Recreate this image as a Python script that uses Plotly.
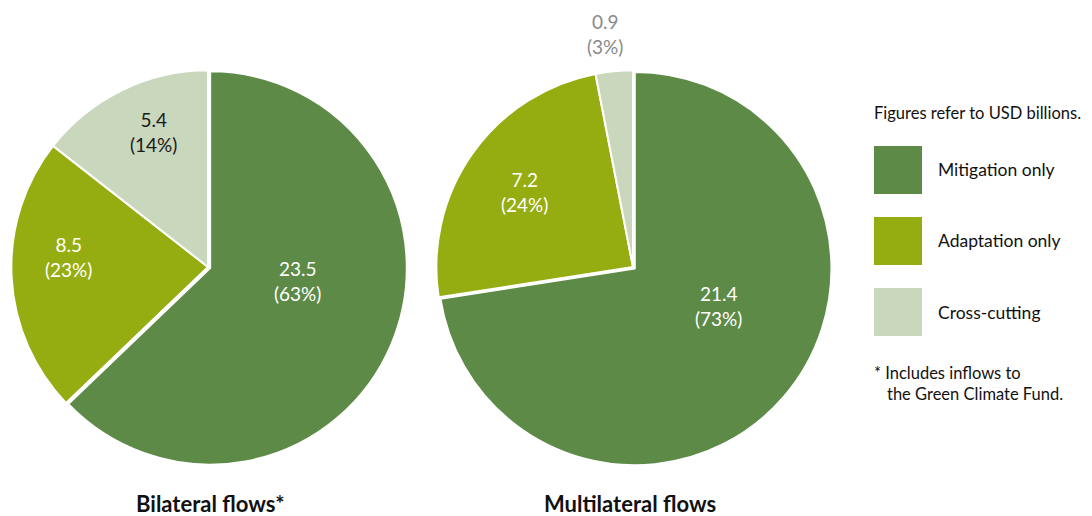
import plotly.graph_objects as go

W, H = 1092, 516

categories = ["Mitigation only", "Adaptation only", "Cross-cutting"]
bilateral_values = [23.5, 8.5, 5.4]
bilateral_pct = [63, 23, 14]
multilateral_values = [21.4, 7.2, 0.9]
multilateral_pct = [73, 24, 3]
pie_titles = ["Bilateral flows*", "Multilateral flows"]
colors = ["#5d8a46", "#96ad11", "#c9d8bc"]
legend_note = "Figures refer to USD billions."
footnote = ["* Includes inflows to", "the Green Climate Fund."]

FONT = "Lato, 'Open Sans', sans-serif"


def px(x):
    return x / W


def py(y):
    return 1 - y / H


def dom(cx, cy, r):
    return dict(x=[px(cx - r), px(cx + r)], y=[py(cy + r), py(cy - r)])


R = 199
fig = go.Figure()
for vals, (cx, cy) in [(bilateral_values, (208, 267)), (multilateral_values, (633, 267))]:
    fig.add_trace(go.Pie(
        labels=categories, values=vals, sort=False, direction="clockwise", rotation=0,
        marker=dict(colors=colors, line=dict(color="white", width=2)),
        textinfo="none", hoverinfo="label+value+percent", showlegend=False,
        pull=[0.012, 0, 0], domain=dom(cx, cy, R),
    ))

annotations = []
# slice labels
label_pos = [
    [(297, 281, "white"), (68, 257, "white"), (153, 132, "#1a1a1a")],
    [(718, 306, "white"), (524, 192, "white"), (605, 34, "#8a8a8a")],
]
for vals, pcts, pos in [(bilateral_values, bilateral_pct, label_pos[0]),
                        (multilateral_values, multilateral_pct, label_pos[1])]:
    for v, p, (x, y, c) in zip(vals, pcts, pos):
        annotations.append(dict(x=px(x), y=py(y), xref="paper", yref="paper", showarrow=False,
                                text=f"{v}<br>({p}%)", font=dict(family=FONT, size=19, color=c),
                                align="center", xanchor="center", yanchor="middle"))
# pie titles
for t, x in zip(pie_titles, [210, 630]):
    annotations.append(dict(x=px(x), y=py(503), xref="paper", yref="paper", showarrow=False,
                            text=f"<b>{t}</b>", font=dict(family=FONT, size=22, color="#111"),
                            xanchor="center", yanchor="middle"))
# legend
annotations.append(dict(x=px(872), y=py(113), xref="paper", yref="paper", showarrow=False,
                        text=legend_note, font=dict(family=FONT, size=16.5, color="#111"),
                        xanchor="left", yanchor="middle"))
shapes = []
sq_tops = [146, 217, 288]
for cat, col, top in zip(categories, colors, sq_tops):
    shapes.append(dict(type="rect", xref="paper", yref="paper", x0=px(874), x1=px(922),
                       y0=py(top + 48), y1=py(top), fillcolor=col, line=dict(width=0)))
    annotations.append(dict(x=px(936), y=py(top + 24), xref="paper", yref="paper", showarrow=False,
                            text=cat, font=dict(family=FONT, size=17.5, color="#111"),
                            xanchor="left", yanchor="middle"))
annotations.append(dict(x=px(872), y=py(373), xref="paper", yref="paper", showarrow=False,
                        text=footnote[0], font=dict(family=FONT, size=16.5, color="#111"),
                        xanchor="left", yanchor="middle"))
annotations.append(dict(x=px(885), y=py(394), xref="paper", yref="paper", showarrow=False,
                        text=footnote[1], font=dict(family=FONT, size=16.5, color="#111"),
                        xanchor="left", yanchor="middle"))

fig.update_layout(width=W, height=H, margin=dict(l=0, r=0, t=0, b=0),
                  paper_bgcolor="white", plot_bgcolor="white",
                  annotations=annotations, shapes=shapes, font=dict(family=FONT))
fig.write_html("out.html", config={"displayModeBar": False},
               post_script="document.body.style.margin='0';document.body.style.padding='0';"
                           "document.documentElement.style.overflow='hidden';")
